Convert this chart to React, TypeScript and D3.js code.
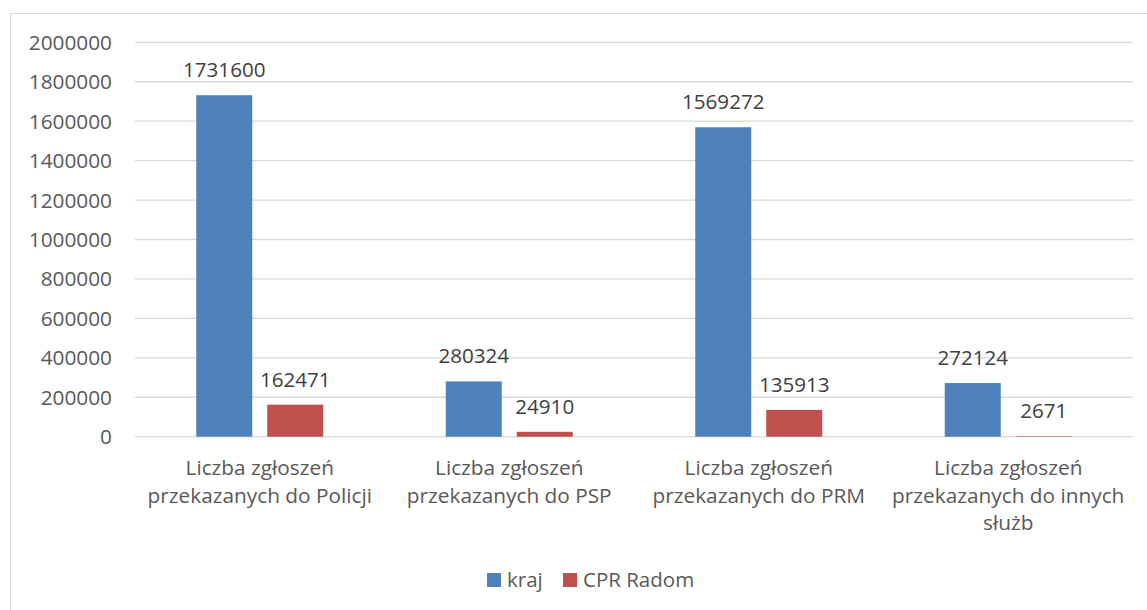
import React, { useEffect, useRef } from 'react';
import * as d3 from 'd3';

const categories = [
  ['Liczba zgłoszeń', 'przekazanych do Policji'],
  ['Liczba zgłoszeń', 'przekazanych do PSP'],
  ['Liczba zgłoszeń', 'przekazanych do PRM'],
  ['Liczba zgłoszeń', 'przekazanych do innych', 'służb'],
];
const seriesNames = ['kraj', 'CPR Radom'];
const kraj = [1731600, 280324, 1569272, 272124];
const cprRadom = [162471, 24910, 135913, 2671];
const yTicks = [0, 200000, 400000, 600000, 800000, 1000000, 1200000, 1400000, 1600000, 1800000, 2000000];
const colors = ['#4F81BD', '#C0504D'];

function App() {
  const ref = useRef<SVGSVGElement>(null);

  useEffect(() => {
    const svg = d3.select(ref.current);
    svg.selectAll('*').remove();
    const font = "'Open Sans', sans-serif";

    // chart frame
    svg.append('rect')
      .attr('x', 10.5).attr('y', 13.5)
      .attr('width', 1150).attr('height', 620)
      .attr('fill', 'white').attr('stroke', '#d9d9d9');

    const left = 135, right = 1133, top = 42.3, bottom = 436.7;
    const y = d3.scaleLinear().domain([0, 2000000]).range([bottom, top]);
    const keys = categories.map((_, i) => String(i));
    const x0 = d3.scaleBand().domain(keys).range([left, right]);
    const groupW = 127;
    const x1 = d3.scaleBand().domain(seriesNames).range([0, groupW]).paddingInner(15 / 71);

    // gridlines
    svg.append('g').selectAll('line').data(yTicks).enter().append('line')
      .attr('x1', left).attr('x2', right)
      .attr('y1', d => y(d)).attr('y2', d => y(d))
      .attr('stroke', '#d9d9d9').attr('stroke-width', 1.3);

    // y tick labels
    svg.append('g').selectAll('text').data(yTicks).enter().append('text')
      .attr('x', 112).attr('y', d => y(d))
      .attr('dy', '0.36em')
      .attr('text-anchor', 'end')
      .attr('font-family', font).attr('font-size', 20.8)
      .attr('fill', '#595959')
      .text(d => d);

    const series = [kraj, cprRadom];
    series.forEach((vals, si) => {
      const g = svg.append('g');
      const bx = (i: number) => x0(String(i))! + (x0.bandwidth() - groupW) / 2 + x1(seriesNames[si])!;
      g.selectAll('rect').data(vals).enter().append('rect')
        .attr('x', (_, i) => bx(i))
        .attr('y', d => y(d))
        .attr('width', x1.bandwidth())
        .attr('height', d => bottom - y(d))
        .attr('fill', colors[si]);
      g.selectAll('text').data(vals).enter().append('text')
        .attr('x', (_, i) => bx(i) + x1.bandwidth() / 2)
        .attr('y', d => y(d) - 18)
        .attr('text-anchor', 'middle')
        .attr('font-family', font).attr('font-size', 20.6)
        .attr('fill', '#404040')
        .text(d => d);
    });

    // category labels
    const cat = svg.append('g').selectAll('text').data(categories).enter().append('text')
      .attr('text-anchor', 'middle')
      .attr('font-family', font).attr('font-size', 20.8)
      .attr('fill', '#595959');
    cat.selectAll('tspan').data((d, i) => d.map(line => ({ line, i }))).enter().append('tspan')
      .attr('x', d => x0(String(d.i))! + x0.bandwidth() / 2)
      .attr('y', (_, j) => 475 + j * 27.5)
      .text(d => d.line);

    // legend
    const legendX = [487, 563];
    const lg = svg.append('g');
    seriesNames.forEach((name, i) => {
      lg.append('rect')
        .attr('x', legendX[i]).attr('y', 573)
        .attr('width', 14).attr('height', 14)
        .attr('fill', colors[i]);
      lg.append('text')
        .attr('x', legendX[i] + 20).attr('y', 587)
        .attr('font-family', font).attr('font-size', 20.5)
        .attr('fill', '#595959')
        .text(name);
    });
  }, []);

  return (
    <svg ref={ref} width={1147} height={610}
      style={{ position: 'absolute', left: 0, top: 0, display: 'block' }} />
  );
}

export default App;
